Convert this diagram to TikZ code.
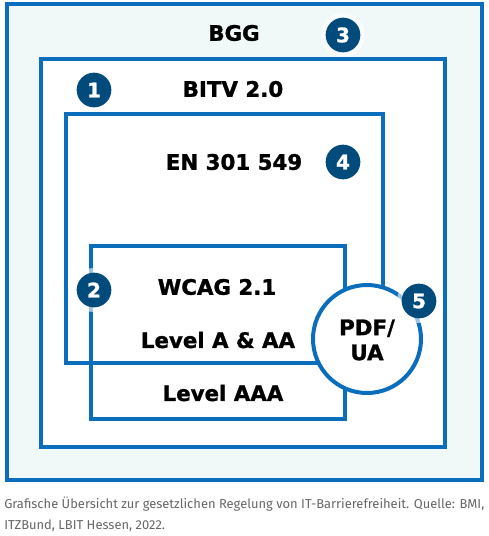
\documentclass[tikz,border=0pt]{standalone}
\usepackage{fontspec}
\setmainfont{DejaVu Sans}
\newfontfamily\headfont[FakeBold=1.2]{DejaVu Sans Bold}
\newfontfamily\capfont{Fira Sans}
\usepackage{xcolor}
\usetikzlibrary{positioning}
\definecolor{lineblue}{HTML}{0A6EBD}
\definecolor{badgeblue}{HTML}{004B7C}
\definecolor{mint}{HTML}{F0F8F8}
\definecolor{capgray}{HTML}{666666}
\tikzset{
  frame/.style={draw=lineblue,line width=3pt},
  label/.style={font=\headfont\fontsize{16}{18.75}\selectfont,align=center},
  badge/.style={circle,fill=badgeblue,text=white,minimum size=26pt,inner sep=0pt,font=\headfont\fontsize{15}{18}\selectfont},
  halo/.style={fill=white,fill opacity=0.6},
  caption/.style={font=\capfont\fontsize{9.7}{12}\selectfont,text=capgray,inner sep=0pt}
}
\begin{document}
\begin{tikzpicture}[x=0.75pt,y=-0.75pt]
  	\useasboundingbox (0,0) rectangle (489,536);
  	% nested frames
  	\draw[frame,fill=mint] (7,4) rectangle (482,480);
  	\draw[frame,fill=white] (41,59) rectangle (445,447);
  	\draw[frame] (66,114) rectangle (383,363);
  	\draw[frame] (91,246) rectangle (345,419);
  	\draw[frame,fill=white] (367,339) circle (54);
  	% texts
  	\node[label] (bgg) at (234,33) {BGG};
  	\node[label] (bitv) at (233,89) {BITV 2.0};
  	\node[label] (en) at (234,162) {EN 301 549};
  	\node[label] (wcag) at (217,287) {WCAG 2.1};
  	\node[label] (levelaa) at (218,340) {Level A \& AA};
  	\node[label] (levelaaa) at (223,393) {Level AAA};
  	\node[label] (pdfua) at (367,340) {PDF/\\UA};
  	% numbered badges
  	\foreach \n/\bx/\by in {1/94/90,2/94/290,3/343/35,4/343/162,5/419/301}{
  	  \fill[halo] (\bx,\by) circle (22);
  	  \node[badge] (badge\n) at (\bx,\by) {\n};
  	}
  	% caption
  	\node[caption,anchor=base west] (cap1) at (4,508) {Grafische Übersicht zur gesetzlichen Regelung von IT-Barrierefreiheit. Quelle: BMI,};
  	\node[caption,anchor=base west] (cap2) at (4,529) {ITZBund, LBIT Hessen, 2022.};
  \end{tikzpicture}
\end{document}
